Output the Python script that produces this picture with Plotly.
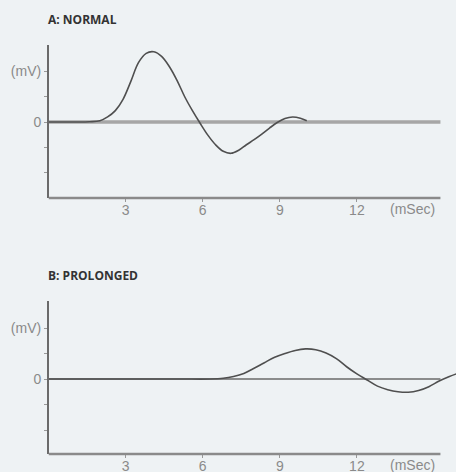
import plotly.graph_objects as go

# Data
x_ticks = [3, 6, 9, 12]
x_tick_labels = ["3", "6", "9", "12"]
y_ticks = [-2, -1, 0, 1, 2]
y_tick_labels = ["", "", "0", "", "(mV)"]

normal_x = [0, 1.0, 1.6, 2.0, 2.3, 2.6, 2.9, 3.2, 3.5, 3.8, 4.1, 4.4, 4.7, 5.0, 5.3, 5.6, 5.9,
            6.2, 6.5, 6.8, 7.1, 7.4, 7.7, 8.0, 8.3, 8.6, 8.9, 9.2, 9.5, 9.8, 10.05]
normal_y = [0, 0, 0.01, 0.05, 0.2, 0.45, 0.9, 1.6, 2.35, 2.72, 2.78, 2.6, 2.2, 1.65, 1.0, 0.45, -0.05,
            -0.52, -0.9, -1.16, -1.24, -1.12, -0.9, -0.7, -0.48, -0.24, -0.02, 0.14, 0.2, 0.15, 0.05]

prolonged_x = [0, 5.0, 6.3, 6.8, 7.2, 7.6, 8.0, 8.4, 8.8, 9.2, 9.6, 10.0, 10.4, 10.8, 11.2, 11.6,
               12.0, 12.4, 12.8, 13.2, 13.6, 14.0, 14.4, 14.8, 15.2, 15.6, 15.87]
prolonged_y = [0, 0, 0, 0.03, 0.1, 0.22, 0.42, 0.64, 0.85, 1.0, 1.12, 1.18, 1.15, 1.02, 0.8, 0.48,
               0.2, -0.04, -0.28, -0.42, -0.5, -0.52, -0.45, -0.3, -0.08, 0.1, 0.2]

W, H = 456, 472
BG = "#eef2f4"
AXIS = "#6a6a6a"
CURVE = "#4f4f4f"
TICKFONT = dict(family="Liberation Sans, Arial", size=14, color="#8a8a8a")

x_end = 15.25
xr = [0, (W - 48.5) / 25.7]

fig = go.Figure()
fig.add_trace(go.Scatter(x=normal_x, y=normal_y, mode="lines",
                         line=dict(color=CURVE, width=1.6, shape="spline", smoothing=1.0),
                         xaxis="x", yaxis="y", hoverinfo="skip", showlegend=False, cliponaxis=False))
fig.add_trace(go.Scatter(x=prolonged_x, y=prolonged_y, mode="lines",
                         line=dict(color=CURVE, width=1.6, shape="spline", smoothing=1.0),
                         xaxis="x2", yaxis="y2", hoverinfo="skip", showlegend=False, cliponaxis=False))

def xaxis(anchor):
    return dict(domain=[48.5 / W, 1], range=xr, anchor=anchor, showgrid=False, zeroline=False, showline=False,
                tickmode="array", tickvals=x_ticks, ticktext=x_tick_labels, ticks="outside", ticklen=3,
                tickcolor="#999", tickwidth=1, tickfont=TICKFONT, ticklabelstandoff=-4,
                automargin=False, fixedrange=True)

def yaxis(anchor, dom, rng):
    return dict(domain=dom, range=rng, anchor=anchor, showgrid=False, zeroline=False, showline=True,
                linecolor=AXIS, linewidth=1.5, tickmode="array", tickvals=y_ticks, ticktext=y_tick_labels,
                ticks="outside", ticklen=3, tickcolor="#999", tickwidth=1, tickfont=TICKFONT,
                ticklabelstandoff=0, automargin=False, fixedrange=True)

fig.update_layout(
    width=W, height=H, margin=dict(l=0, r=0, t=0, b=0, autoexpand=False),
    paper_bgcolor=BG, plot_bgcolor=BG, hovermode=False,
    xaxis=xaxis("y"),
    yaxis=yaxis("x", [1 - 198 / H, 1 - 45 / H], [-76 / 25.25, 77 / 25.25]),
    xaxis2=xaxis("y2"),
    yaxis2=yaxis("x2", [1 - 454 / H, 1 - 301 / H], [-75 / 25.5, 78 / 25.5]),
    shapes=[
        dict(type="line", xref="x", yref="y", x0=0, x1=x_end, y0=0, y1=0,
             line=dict(color="#a6a6a6", width=3.5), layer="below"),
        dict(type="line", xref="x", yref="y domain", x0=0, x1=x_end, y0=0, y1=0,
             line=dict(color="#8a8a8a", width=2.5)),
        dict(type="line", xref="x2", yref="y2", x0=0, x1=x_end, y0=0, y1=0,
             line=dict(color=AXIS, width=1.5), layer="below"),
        dict(type="line", xref="x2", yref="y2 domain", x0=0, x1=x_end, y0=0, y1=0,
             line=dict(color="#8a8a8a", width=2.5)),
    ],
    annotations=[
        dict(text="<b>A: NORMAL</b>", xref="paper", yref="paper", x=46 / W, y=1 - 19 / H,
             xanchor="left", yanchor="middle", showarrow=False,
             font=dict(family="Open Sans", size=12, color="#333")),
        dict(text="<b>B: PROLONGED</b>", xref="paper", yref="paper", x=46 / W, y=1 - 275 / H,
             xanchor="left", yanchor="middle", showarrow=False,
             font=dict(family="Open Sans", size=12, color="#333")),
        dict(text="(mSec)", xref="x", yref="paper", x=14.18, y=1 - 209 / H, xanchor="center",
             yanchor="middle", showarrow=False, font=TICKFONT),
        dict(text="(mSec)", xref="x2", yref="paper", x=14.18, y=1 - 465 / H, xanchor="center",
             yanchor="middle", showarrow=False, font=TICKFONT),
    ],
)

fig.write_html("out.html", config={"displayModeBar": False, "staticPlot": True})

# remove the browser's default 8px body margin so the figure sits at the page origin
with open("out.html", "r", encoding="utf-8") as f:
    html = f.read()
html = html.replace("<head>", "<head><style>html,body{margin:0;padding:0;}</style>", 1)
with open("out.html", "w", encoding="utf-8") as f:
    f.write(html)
